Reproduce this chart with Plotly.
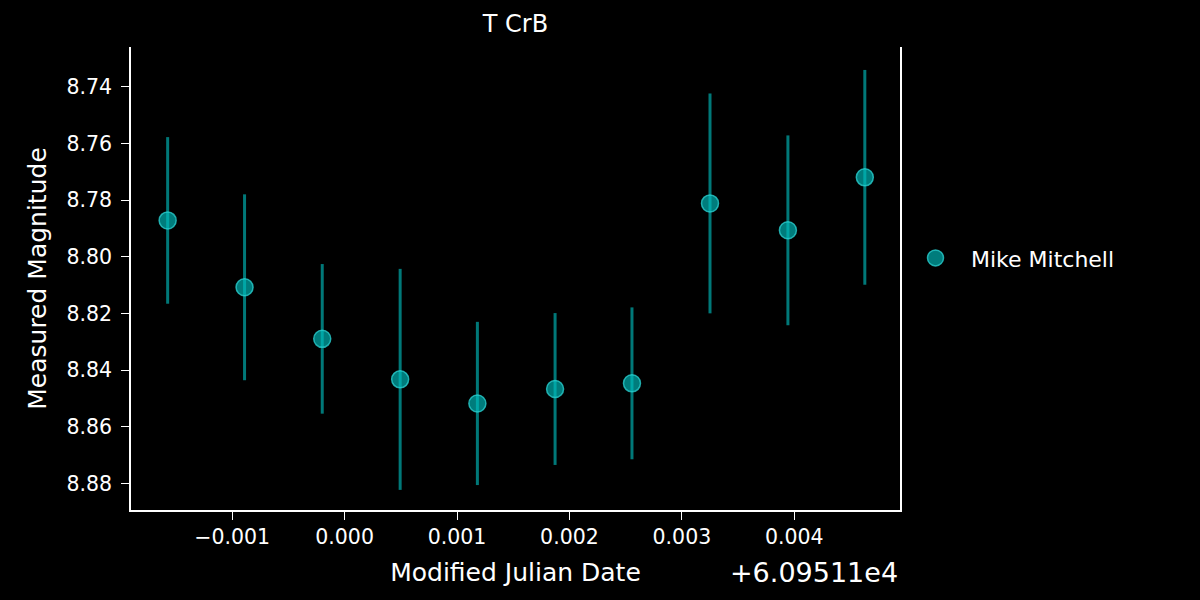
import plotly.graph_objects as go

# Data
mjd_offset = 60951.1
mjd_rel = [-0.001574, -0.000890, -0.000199, 0.000494, 0.001181,
           0.001872, 0.002556, 0.003250, 0.003943, 0.004627]
magnitude = [8.7872, 8.8108, 8.8290, 8.8433, 8.8518,
             8.8467, 8.8447, 8.7812, 8.7907, 8.7720]
mag_err = [0.0294, 0.0328, 0.0264, 0.0390, 0.0288,
           0.0268, 0.0268, 0.0388, 0.0335, 0.0379]
observer = "Mike Mitchell"

x_tick_rel = [-0.001, 0.000, 0.001, 0.002, 0.003, 0.004]
x_tick_text = ["\u22120.001", "0.000", "0.001", "0.002", "0.003", "0.004"]
y_ticks = [8.74, 8.76, 8.78, 8.80, 8.82, 8.84, 8.86, 8.88]
y_tick_text = ["8.74", "8.76", "8.78", "8.80", "8.82", "8.84", "8.86", "8.88"]

mjd = [mjd_offset + v for v in mjd_rel]
x_tickvals = [mjd_offset + v for v in x_tick_rel]

FONT = "DejaVu Sans"
fig = go.Figure()
fig.add_trace(go.Scatter(
    x=mjd, y=magnitude, mode="markers", name=observer,
    marker=dict(size=17, color="rgba(0,191,191,0.65)",
                line=dict(color="rgba(40,205,205,0.8)", width=1.5)),
    error_y=dict(type="data", array=mag_err, visible=True,
                 color="rgba(0,150,150,0.8)", thickness=3, width=0),
))

fig.update_layout(
    width=1200, height=600,
    paper_bgcolor="black", plot_bgcolor="black",
    margin=dict(l=131, r=300, t=47, b=90),
    font=dict(family=FONT, color="white", size=20),
    title=dict(text="T CrB", x=(131 + 900) / 2 / 1200, xanchor="center",
               y=1 - 24 / 600, yanchor="middle", font=dict(size=24, family=FONT)),
    showlegend=True,
    legend=dict(x=1.0, xanchor="left", y=0.544, yanchor="middle",
                itemwidth=61,
                font=dict(size=22, family=FONT), bgcolor="rgba(0,0,0,0)"),
    xaxis=dict(
        range=[mjd_offset - 0.0019, mjd_offset + 0.00494],
        tickvals=x_tickvals, ticktext=x_tick_text,
        showgrid=False, zeroline=False,
        showline=True, linecolor="white", linewidth=1.5, mirror=False,
        ticks="outside", ticklen=8, tickwidth=1.2, tickcolor="white",
        tickfont=dict(size=20.5, family=FONT),
        title=dict(text="Modified Julian Date", font=dict(size=25, family=FONT), standoff=15),
    ),
    yaxis=dict(
        range=[8.8894, 8.726],
        tickvals=y_ticks, ticktext=y_tick_text,
        showgrid=False, zeroline=False,
        showline=True, linecolor="white", linewidth=1.5, mirror=True,
        ticks="outside", ticklen=8, tickwidth=1.2, tickcolor="white",
        tickfont=dict(size=20.5, family=FONT), ticklabelstandoff=5,
        title=dict(text="Measured Magnitude", font=dict(size=25, family=FONT), standoff=13),
    ),
)

fig.add_annotation(
    text="+6.09511e4", xref="paper", yref="paper", x=1.0, y=-0.135,
    xanchor="right", yanchor="middle", showarrow=False,
    font=dict(size=27, family=FONT, color="white"),
)

fig.write_html(
    "out.html",
    config={"displayModeBar": False},
    post_script="document.body.style.margin='0';document.body.style.background='black';",
)
